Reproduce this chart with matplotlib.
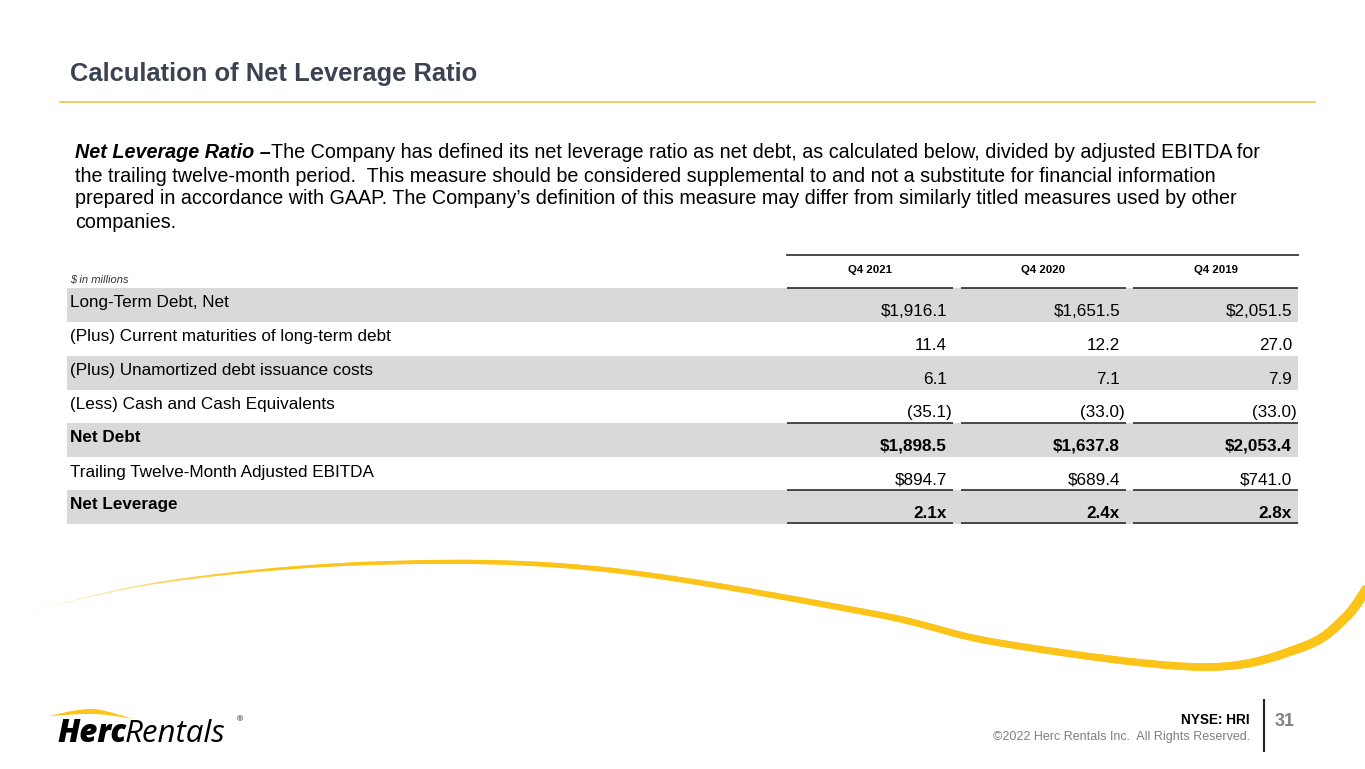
import numpy as np
import matplotlib
matplotlib.use("Agg")
import matplotlib.pyplot as plt
from matplotlib.collections import LineCollection
from matplotlib.patches import Polygon

plt.rcParams["font.family"] = ["Liberation Sans", "DejaVu Sans"]

# data
columns = ["Q4 2021", "Q4 2020", "Q4 2019"]
row_labels = [
    "Long-Term Debt, Net",
    "(Plus) Current maturities of long-term debt",
    "(Plus) Unamortized debt issuance costs",
    "(Less) Cash and Cash Equivalents",
    "Net Debt",
    "Trailing Twelve-Month Adjusted EBITDA",
    "Net Leverage",
]
long_term_debt = [1916.1, 1651.5, 2051.5]
current_maturities = [11.4, 12.2, 27.0]
unamortized_costs = [6.1, 7.1, 7.9]
cash = [-35.1, -33.0, -33.0]
net_debt = [1898.5, 1637.8, 2053.4]
ttm_ebitda = [894.7, 689.4, 741.0]
net_leverage = [2.1, 2.4, 2.8]

title = "Calculation of Net Leverage Ratio"
para_lead = "Net Leverage Ratio \u2013"
para_lines = [
    "The Company has defined its net leverage ratio as net debt, as calculated below, divided by adjusted EBITDA for",
    "the trailing twelve-month period.  This measure should be considered supplemental to and not a substitute for financial information",
    "prepared in accordance with GAAP. The Company\u2019s definition of this measure may differ from similarly titled measures used by other",
    "companies.",
]


def money(v):
    return f"${v:,.1f}"


def plain(v):
    return f"{v:,.1f}" if v >= 0 else f"({abs(v):,.1f})"


def times(v):
    return f"{v:.1f}x"


rows = [
    (long_term_debt, money, False),
    (current_maturities, plain, False),
    (unamortized_costs, plain, False),
    (cash, plain, False),
    (net_debt, money, True),
    (ttm_ebitda, money, False),
    (net_leverage, times, True),
]

W, H = 1365, 769
fig = plt.figure(figsize=(13.65, 7.69), dpi=100)
ax = fig.add_axes([0, 0, 1, 1])
ax.set_xlim(0, W)
ax.set_ylim(H, 0)
ax.axis("off")
renderer = fig.canvas.get_renderer()

# title + rule
ax.text(70, 74, title, fontsize=18.4, fontweight="bold", color="#3b4352", va="center")
ax.plot([60, 1315], [102, 102], color="#f4b942", lw=1.1)

# paragraph
y0, dy = 153, 23
t = ax.text(75, y0, para_lead, fontsize=14.2, fontweight="bold", style="italic", va="center")
bb = t.get_window_extent(renderer)
ax.text(75 + bb.width, y0, para_lines[0], fontsize=14.2, va="center")
for i, line in enumerate(para_lines[1:], start=1):
    ax.text(75, y0 + i * dy, line, fontsize=14.2, va="center")

# table
seg = [(787, 953), (961, 1126), (1133, 1298)]
row_top = [288, 322, 356, 390, 423, 457, 490]
row_h = 33.5
gray = "#d9d9d9"
line_c = "#3a3a3a"

ax.plot([787, 1298], [255, 255], color=line_c, lw=1.3)
ax.text(70, 280, "$ in millions", fontsize=8, style="italic", color="#333333", va="center")
for (a, b), col in zip(seg, columns):
    ax.text((a + b) / 2, 270, col, fontsize=8.2, fontweight="bold", ha="center", va="center")

for i, (label, (vals, fmt, bold)) in enumerate(zip(row_labels, rows)):
    top = row_top[i]
    if i % 2 == 0:
        ax.fill_between([67, 1298], top, top + row_h, color=gray, lw=0)
    w = "bold" if bold else "normal"
    ax.text(70, top + 15, label, fontsize=12.3, fontweight=w, va="center")
    for (a, b), v in zip(seg, vals):
        xr = b - 1 if v < 0 else b - 6
        ax.text(xr, top + 23, fmt(v), fontsize=12.3, fontweight=w, ha="right", va="center")

for yy in [288, 423, 490, 523]:
    for a, b in seg:
        ax.plot([a, b], [yy, yy], color=line_c, lw=1.3, solid_capstyle="butt")


# big swoosh
def catmull(pts, n=60):
    pts = np.array(pts, float)
    p = np.vstack([pts[0], pts, pts[-1]])
    out = []
    t = np.linspace(0, 1, n, endpoint=False)[:, None]
    for i in range(len(pts) - 1):
        p0, p1, p2, p3 = p[i], p[i + 1], p[i + 2], p[i + 3]
        out.append(0.5 * (2 * p1 + (-p0 + p2) * t + (2 * p0 - 5 * p1 + 4 * p2 - p3) * t ** 2
                          + (-p0 + 3 * p1 - 3 * p2 + p3) * t ** 3))
    out.append(pts[-1:])
    return np.vstack(out)


curve = catmull([(15, 615), (170, 581), (380, 563), (600, 569), (870, 613),
                 (1000, 643), (1200, 667), (1300, 648), (1345, 618), (1372, 580)])
mid = (curve[:-1] + curve[1:]) / 2
wpx = np.interp(mid[:, 0], [15, 200, 500, 900, 1200, 1365], [0.4, 2, 4.5, 6.5, 7.5, 9.5])
alpha = np.clip((mid[:, 0] - 15) / 260, 0, 1)
cols = np.zeros((len(mid), 4))
cols[:, :3] = matplotlib.colors.to_rgb("#fcc419")
cols[:, 3] = alpha
segs = np.stack([curve[:-1], curve[1:]], axis=1)
ax.add_collection(LineCollection(segs, linewidths=wpx * 0.72, colors=cols, capstyle="round"))

# logo
top_edge = catmull([(48, 716), (92, 709), (133, 719)], n=30)
bot_edge = catmull([(133, 719), (95, 714), (48, 716)], n=30)
ax.add_patch(Polygon(np.vstack([top_edge, bot_edge]), closed=True, color="#fcc419", lw=0))
logo_font = ["Open Sans", "DejaVu Sans"]
h = ax.text(57, 742, "Herc", fontsize=22.5, fontweight="heavy", style="italic",
            family=logo_font, va="baseline")
hb = h.get_window_extent(renderer)
ax.text(57 + hb.width - 1, 742, "Rentals", fontsize=22.5, style="italic",
        family=logo_font, va="baseline")
ax.text(240, 720, "\u00ae", fontsize=6, ha="center", va="center")

# footer
ax.text(1250, 720, "NYSE: HRI", fontsize=9.8, fontweight="bold", ha="right", va="center")
ax.text(1250, 737, "\u00a92022 Herc Rentals Inc.  All Rights Reserved.", fontsize=9,
        color="#7f7f7f", ha="right", va="center")
ax.plot([1264, 1264], [700, 751], color="#222222", lw=1.5)
ax.text(1275, 722, "31", fontsize=13, fontweight="bold", color="#808080", va="center")

fig.savefig("out.png", dpi=100)
